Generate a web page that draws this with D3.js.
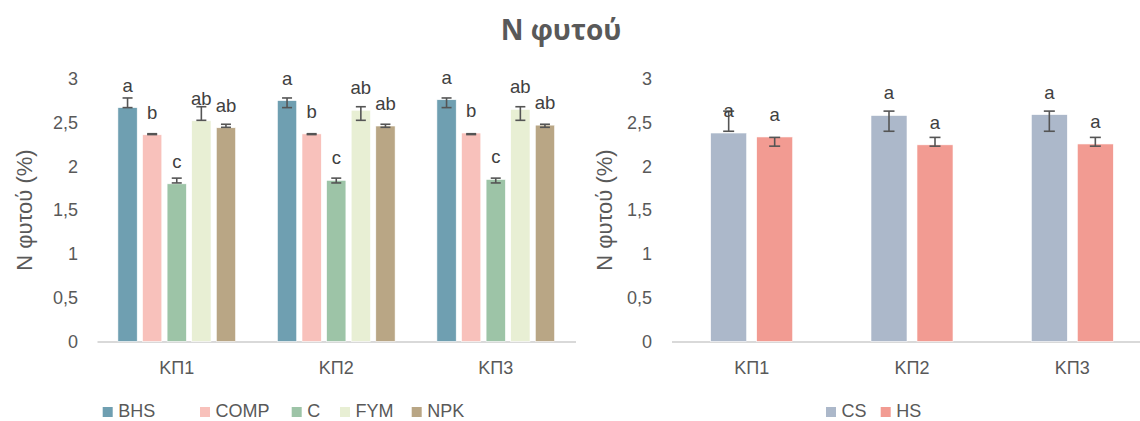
<!DOCTYPE html>
<html>
<head>
<meta charset="utf-8">
<script src="https://cdn.jsdelivr.net/npm/d3@7"></script>
<style>
  html, body { margin: 0; padding: 0; background: #fff; }
  svg { display: block; }
  text { font-family: "Liberation Sans", Arial, sans-serif; }
</style>
</head>
<body>
<svg id="chart" width="1140" height="421"></svg>
<script>
// Plant nitrogen content (%) per sampling period
const categories = ["ΚΠ1", "ΚΠ2", "ΚΠ3"];
const yTicks = [0, 0.5, 1, 1.5, 2, 2.5, 3];

// Fertilisation treatments (left panel)
const treatments = ["BHS", "COMP", "C", "FYM", "NPK"];
const bhs  = [2.67, 2.75, 2.76];
const comp = [2.36, 2.37, 2.38];
const c    = [1.80, 1.84, 1.85];
const fym  = [2.52, 2.64, 2.65];
const npk  = [2.44, 2.46, 2.47];
// error bar ends (low, high)
const bhsErrLo  = [2.67, 2.67, 2.67],  bhsErrHi  = [2.78, 2.78, 2.78];
const compErrLo = [2.362, 2.362, 2.362], compErrHi = [2.372, 2.372, 2.372];
const cErrLo    = [1.81, 1.81, 1.81],  cErrHi    = [1.865, 1.865, 1.865];
const fymErrLo  = [2.525, 2.525, 2.525], fymErrHi = [2.68, 2.68, 2.68];
const npkErrLo  = [2.445, 2.445, 2.445], npkErrHi = [2.48, 2.48, 2.48];
const bhsLetters  = ["a", "a", "a"];
const compLetters = ["b", "b", "b"];
const cLetters    = ["c", "c", "c"];
const fymLetters  = ["ab", "ab", "ab"];
const npkLetters  = ["ab", "ab", "ab"];

// Soil types (right panel)
const soils = ["CS", "HS"];
const cs = [2.38, 2.58, 2.59];
const hs = [2.335, 2.245, 2.255];
const csErrLo = [2.40, 2.40, 2.40], csErrHi = [2.63, 2.63, 2.63];
const hsErrLo = [2.23, 2.23, 2.23], hsErrHi = [2.33, 2.33, 2.33];
const csLetters = ["a", "a", "a"];
const hsLetters = ["a", "a", "a"];

const leftSeries = [
  { name: "BHS",  values: bhs,  lo: bhsErrLo,  hi: bhsErrHi,  letters: bhsLetters,  color: "#6f9fb1" },
  { name: "COMP", values: comp, lo: compErrLo, hi: compErrHi, letters: compLetters, color: "#f8c1bb" },
  { name: "C",    values: c,    lo: cErrLo,    hi: cErrHi,    letters: cLetters,    color: "#9dc4a7" },
  { name: "FYM",  values: fym,  lo: fymErrLo,  hi: fymErrHi,  letters: fymLetters,  color: "#e8efd4" },
  { name: "NPK",  values: npk,  lo: npkErrLo,  hi: npkErrHi,  letters: npkLetters,  color: "#b9a685" }
];
const rightSeries = [
  { name: "CS", values: cs, lo: csErrLo, hi: csErrHi, letters: csLetters, color: "#acb8ca" },
  { name: "HS", values: hs, lo: hsErrLo, hi: hsErrHi, letters: hsLetters, color: "#f29b92" }
];

const textColor = "#595959";
const svg = d3.select("#chart");

svg.append("text")
  .attr("x", 561).attr("y", 39.5)
  .attr("text-anchor", "middle")
  .attr("fill", textColor)
  .style("font-family", "'Open Sans', sans-serif")
  .style("font-weight", 700)
  .style("font-size", "28px")
  .text("N φυτού");

const y = d3.scaleLinear().domain([0, 3]).range([341.5, 78.7]);

function panel(opts) {
  const { series, x0Range, groupWidth, labelX, tickPad, legend } = opts;
  const g = svg.append("g");

  const x0 = d3.scaleBand().domain(categories).range(x0Range).paddingInner(0).paddingOuter(0);
  const pad = opts.barPad;
  const x1 = d3.scaleBand().domain(series.map(s => s.name))
    .range([0, groupWidth]).paddingInner(pad).paddingOuter(pad / 2);
  const groupOffset = (x0.bandwidth() - groupWidth) / 2;

  // y axis (labels only)
  const yAxis = d3.axisLeft(y).tickValues(yTicks).tickSize(0).tickPadding(tickPad)
    .tickFormat(d => String(d).replace(".", ","));
  const ya = g.append("g").attr("transform", `translate(${x0Range[0]},0)`).call(yAxis);
  ya.select(".domain").remove();
  ya.selectAll("text").attr("fill", textColor).style("font-size", "18px")
    .style("font-family", "'Liberation Sans', Arial, sans-serif");

  // category axis
  const xAxis = d3.axisBottom(x0).tickSize(0).tickPadding(20);
  const xa = g.append("g").attr("transform", `translate(0,${y(0)})`).call(xAxis);
  xa.select(".domain").attr("stroke", "#d9d9d9").attr("stroke-width", 2);
  xa.selectAll("text").attr("fill", textColor).style("font-size", "18px")
    .style("font-family", "'Liberation Sans', Arial, sans-serif");

  // axis title
  g.append("text")
    .attr("transform", `translate(${labelX},210) rotate(-90)`)
    .attr("text-anchor", "middle")
    .attr("fill", textColor)
    .style("font-size", "22px")
    .text("N φυτού (%)");

  series.forEach(s => {
    const sg = g.append("g");
    categories.forEach((cat, i) => {
      const bx = x0(cat) + groupOffset + x1(s.name);
      const bw = x1.bandwidth();
      const v = s.values[i];
      sg.append("rect")
        .attr("x", bx).attr("y", y(v))
        .attr("width", bw).attr("height", y(0) - y(v))
        .attr("fill", s.color)
        .attr("stroke", "#ffffff").attr("stroke-width", 0.6);
      const cx = bx + bw / 2;
      const cap = opts.capWidth / 2;
      const e = sg.append("g").attr("stroke", "#555").attr("stroke-width", 1.6).attr("fill", "none");
      e.append("line").attr("x1", cx).attr("x2", cx).attr("y1", y(s.lo[i])).attr("y2", y(s.hi[i]));
      e.append("line").attr("x1", cx - cap).attr("x2", cx + cap).attr("y1", y(s.lo[i])).attr("y2", y(s.lo[i]));
      e.append("line").attr("x1", cx - cap).attr("x2", cx + cap).attr("y1", y(s.hi[i])).attr("y2", y(s.hi[i]));
      sg.append("text")
        .attr("x", cx).attr("y", y(v) - 16)
        .attr("text-anchor", "middle")
        .attr("fill", "#404040")
        .style("font-size", "18.5px")
        .text(s.letters[i]);
    });
  });

  // legend
  const lg = g.append("g");
  series.forEach((s, i) => {
    const lx = legend.x[i];
    lg.append("rect").attr("x", lx).attr("y", 407).attr("width", 10).attr("height", 10).attr("fill", s.color);
    lg.append("text").attr("x", lx + 15.5).attr("y", 417)
      .attr("fill", textColor).style("font-size", "18px").text(s.name);
  });
}

panel({
  series: leftSeries,
  x0Range: [97, 575.5],
  groupWidth: 123,
  barPad: 0.215,
  capWidth: 10,
  labelX: 32,
  tickPad: 19,
  legend: { x: [102.7, 200, 291.7, 340, 411.7] }
});

panel({
  series: rightSeries,
  x0Range: [671.5, 1152.5],
  groupWidth: 92,
  barPad: 0.217,
  capWidth: 11,
  labelX: 612,
  tickPad: 19.5,
  legend: { x: [826, 880.7] }
});
</script>
</body>
</html>
